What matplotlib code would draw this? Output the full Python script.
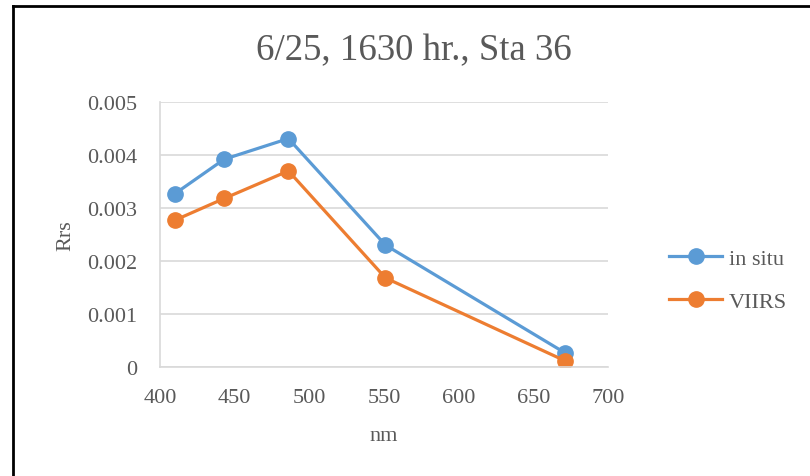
import matplotlib
matplotlib.use("Agg")
import matplotlib.pyplot as plt
from matplotlib.lines import Line2D

wavelengths = [410, 443, 486, 551, 671]
in_situ = [0.00327, 0.00392, 0.00431, 0.00230, 0.00027]
viirs = [0.00277, 0.00318, 0.00370, 0.00168, 0.00012]
xticks = [400, 450, 500, 550, 600, 650, 700]
yticks = [0, 0.001, 0.002, 0.003, 0.004, 0.005]
ytick_labels = ["0", "0.001", "0.002", "0.003", "0.004", "0.005"]

plt.rcParams['font.family'] = ['Liberation Serif', 'DejaVu Serif']
txt = '#595959'
grid = '#D9D9D9'

fig = plt.figure(figsize=(8.1, 4.77), dpi=100)
ax = fig.add_axes([160/810, 1-368/477, (608-160)/810, (368-103)/477])

ax.plot(wavelengths, in_situ, color='#5B9BD5', lw=2.3, marker='o', ms=11, label='in situ')
ax.plot(wavelengths, viirs, color='#ED7D31', lw=2.3, marker='o', ms=11, label='VIIRS')

ax.set_xlim(400, 700)
ax.set_ylim(0, 0.005)
ax.set_xticks(xticks)
ax.set_xticklabels([str(v) for v in xticks])
ax.set_yticks(yticks)
ax.set_yticklabels(ytick_labels)
ax.tick_params(length=0, labelsize=16, colors=txt)
ax.tick_params(axis='x', pad=15)
ax.tick_params(axis='y', pad=16.5)
ax.yaxis.grid(True, color=grid, lw=1.2)
ax.set_axisbelow(True)
for s in ['top', 'right']:
    ax.spines[s].set_visible(False)
for s in ['left', 'bottom']:
    ax.spines[s].set_color(grid)
    ax.spines[s].set_linewidth(1.2)

ax.set_xlabel('nm', fontsize=16, color=txt, labelpad=14)
ax.set_ylabel('Rrs', fontsize=16, color=txt, labelpad=8)
fig.text(414/810, 1-51/477, '6/25, 1630 hr., Sta 36', ha='center', va='center', fontsize=26.5, color=txt)

leg = fig.legend(loc='center left', bbox_to_anchor=(649/810, 1-281/477), frameon=False,
                 fontsize=16, labelcolor=txt, handlelength=2.4, labelspacing=1.0,
                 handletextpad=0.3)

fig.add_artist(Line2D([13/810, 13/810], [0, 1-7/477], transform=fig.transFigure, color='black', lw=2))
fig.add_artist(Line2D([13/810, 1], [1-7/477, 1-7/477], transform=fig.transFigure, color='black', lw=2))

fig.savefig('out.png', dpi=100)
